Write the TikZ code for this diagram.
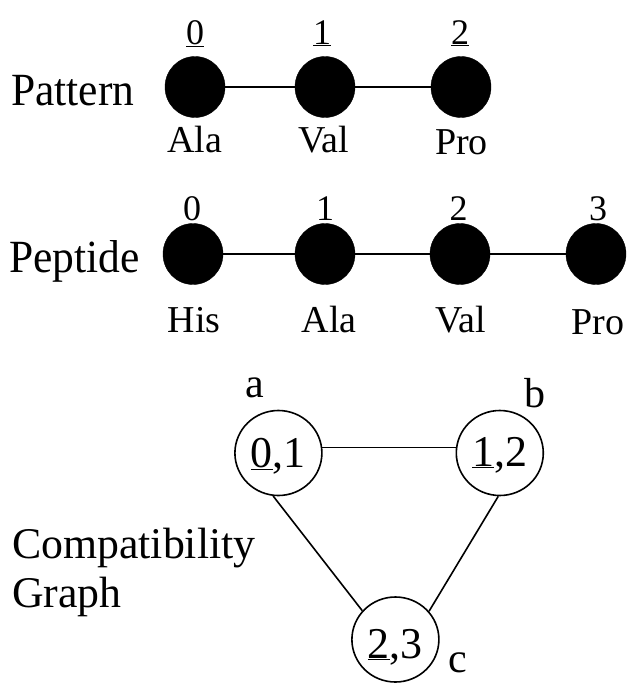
\documentclass[tikz,border=0pt]{standalone}
\usepackage{fontspec}
\setmainfont{Liberation Serif}
\usetikzlibrary{shapes.geometric}
\begin{document}
\begin{tikzpicture}[x=1pt,y=-1pt,
  dot/.style={ellipse,fill=black,draw=black,inner sep=0pt,minimum width=60pt,minimum height=61pt},
  vert/.style={ellipse,draw=black,line width=1.6pt,inner sep=0pt,minimum width=87pt,minimum height=85pt},
  edge/.style={line width=1.6pt},
  big/.style={font=\fontsize{43.5}{46}\selectfont,anchor=base west,inner sep=0pt},
  lab/.style={font=\fontsize{38}{40}\selectfont,anchor=base,inner sep=0pt},
  num/.style={font=\fontsize{36}{40}\selectfont,anchor=base,inner sep=0pt},
  inner/.style={font=\fontsize{44}{46}\selectfont,anchor=base,inner sep=0pt},
  letter/.style={font=\fontsize{42}{44}\selectfont,anchor=base,inner sep=0pt}]
\useasboundingbox (0,0) rectangle (632,683);
% Pattern
\node[big] (pat) at (11,105) {\scalebox{1}[1.06]{Pattern}};
\node[dot] (p0) at (195,87) {};
\node[dot] (p1) at (325,87) {};
\node[dot] (p2) at (461,87) {};
\draw[edge] (p0) -- (p1);
\draw[edge] (p1) -- (p2);
\node[num] (pn0) at (195,44) {\underline{0}};
\node[num] (pn1) at (322,44) {\underline{1}};
\node[num] (pn2) at (460,44) {\underline{2}};
\node[lab] (pa0) at (194.5,152) {Ala};
\node[lab] (pa1) at (323.5,152) {Val};
\node[lab] (pa2) at (461.5,154) {Pro};
% Peptide
\node[big] (pep) at (9,272) {\scalebox{1}[1.06]{Peptide}};
\node[dot] (q0) at (193,254) {};
\node[dot] (q1) at (325,254) {};
\node[dot] (q2) at (460,254) {};
\node[dot] (q3) at (596,254) {};
\draw[edge] (q0) -- (q1);
\draw[edge] (q1) -- (q2);
\draw[edge] (q2) -- (q3);
\node[num] (qn0) at (192,220) {0};
\node[num] (qn1) at (325,220) {1};
\node[num] (qn2) at (458.5,220) {2};
\node[num] (qn3) at (598,220) {3};
\node[lab] (qa0) at (194,332) {His};
\node[lab] (qa1) at (329,332) {Ala};
\node[lab] (qa2) at (461,332) {Val};
\node[lab] (qa3) at (598,334) {Pro};
% Compatibility graph
\node[big,font=\fontsize{43.8}{46}\selectfont] (cg1) at (12,558) {Compatibility};
\node[big,font=\fontsize{43.8}{46}\selectfont] (cg2) at (12,607) {Graph};
\node[vert] (a) at (278.4,453) {};
\node[vert] (b) at (499.8,453) {};
\node[vert] (c) at (395.4,639.5) {};
\node[inner] (ta) at (278.4,467) {\underline{0},1};
\node[inner] (tb) at (499.8,466) {\underline{1},2};
\node[inner] (tc) at (395.4,658) {\underline{2},3};
\node[letter] (la) at (254.4,397) {a};
\node[letter] (lb) at (535,407) {b};
\node[letter] (lc) at (458,672) {c};
\draw[edge] (a.7) -- (b.173);
\draw[edge] (a.263) -- (c.139);
\draw[edge] (b.268) -- (c.40);
\end{tikzpicture}
\end{document}
